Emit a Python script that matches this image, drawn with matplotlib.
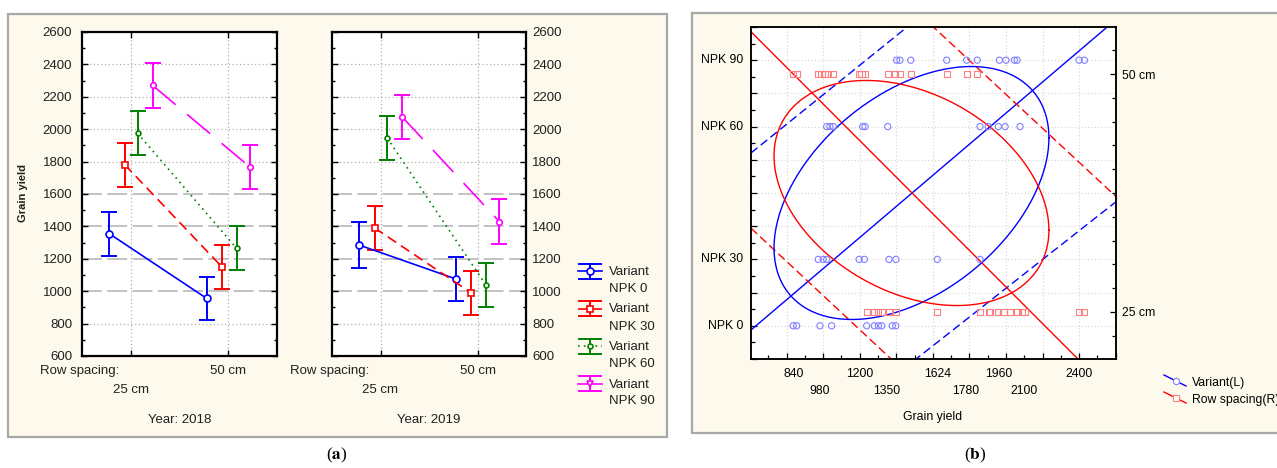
import numpy as np
import matplotlib.pyplot as plt
from matplotlib.patches import Rectangle
from matplotlib.lines import Line2D
from matplotlib.ticker import MultipleLocator, FixedLocator

plt.rcParams['font.family'] = ['Liberation Sans', 'DejaVu Sans']
plt.rcParams['mathtext.fontset'] = 'stix'

W, H = 1277, 468
CREAM = '#fdf9ec'

# ---------------- data: panel (a) ----------------
spacings = ['25 cm', '50 cm']
variants = ['NPK 0', 'NPK 30', 'NPK 60', 'NPK 90']
years = ['2018', '2019']
# mean grain yield per variant, [25 cm, 50 cm]
mean_2018 = [[1355, 955], [1780, 1150], [1975, 1265], [2270, 1765]]
mean_2019 = [[1285, 1075], [1390, 990], [1945, 1040], [2075, 1430]]
# half width of the confidence interval
ci_2018 = [[135, 133], [135, 135], [135, 135], [137, 135]]
ci_2019 = [[140, 135], [135, 135], [135, 135], [135, 140]]

# ---------------- data: panel (b) ----------------
npk_pos = [10, 30, 70, 90]          # variant categories, left axis
row_pos = [14.2, 85.8]              # row spacing categories, right axis
yield_npk0 = [836, 855, 982, 1046, 1238, 1280, 1302, 1320, 1378, 1397]
yield_npk30 = [973, 1000, 1019, 1197, 1225, 1360, 1398, 1624, 1858]
yield_npk60 = [1019, 1037, 1055, 1216, 1229, 1353, 1858, 1903, 1958, 1995, 2077]
yield_npk90 = [1402, 1420, 1479, 1676, 1785, 1843, 1964, 2000, 2046, 2061, 2400, 2429]
yield_25cm = [1238, 1280, 1302, 1320, 1360, 1398, 1624, 1858, 1907, 1912, 1958,
              1986, 2022, 2059, 2086, 2101, 2400, 2429]
yield_50cm = [836, 855, 973, 991, 1010, 1028, 1055, 1197, 1210, 1229, 1353, 1393,
              1420, 1479, 1676, 1785, 1843]
xtick_row1 = [840, 1200, 1624, 1960, 2400]
xtick_row2 = [980, 1350, 1780, 2100]
# fitted lines: (intercept, slope)
variant_fit = (-19.6, 0.04683)
variant_band = [(35.2, 0.0444), (-65.3, 0.0433)]
row_fit = (131.9, -0.0551)
row_band = [(181.9, -0.0511), (70.5, -0.0514)]
# ellipses: centre x, centre y, x half range, y half range, correlation
variant_ellipse = (1483, 50, 752, 38.1, 0.435)
row_ellipse = (1483, 50, 752, 33.9, -0.33)


def fx(x):
    return x / W


def fy(y):
    return 1 - y / H


def box(x0, y0, x1, y1):
    fig.add_artist(Rectangle((fx(x0), fy(y1)), (x1 - x0) / W, (y1 - y0) / H,
                             transform=fig.transFigure, facecolor=CREAM,
                             edgecolor='#a8a8a8', lw=1.6, zorder=0))


fig = plt.figure(figsize=(W / 100, H / 100), dpi=100)
fig.patch.set_facecolor('white')
box(8, 14, 667, 437)
box(692, 13, 1285, 433)

colors = ['#0000ff', '#ff0000', '#008000', '#ff00ff']
lstyles = ['-', (0, (6, 3.5)), (0, (1, 2.5)), (0, (18, 9))]
markers = ['o', 's', 'o', 'o']
msizes = [5, 5, 3.5, 4]
offsets = [[-0.22, -0.22], [-0.06, -0.065], [0.07, 0.085], [0.225, 0.225]]
dashed_grid = [1000, 1200, 1400, 1600]
TXT = dict(fontsize=9.5, color='#202020')


def draw_year(ax, means, cis, year, right):
    ax.set_xlim(-0.5, 1.5)
    ax.set_ylim(600, 2600)
    for yv in range(800, 2600, 200):
        if yv in dashed_grid:
            ax.axhline(yv, color='#bdbdbd', lw=1.3, ls=(0, (11, 3)), zorder=0)
        else:
            ax.axhline(yv, color='#b0b0b0', lw=0.9, ls=(0, (1, 2)), zorder=0)
    for xv in range(len(spacings)):
        ax.axvline(xv, color='#b0b0b0', lw=0.9, ls=(0, (1, 2)), zorder=0)
    for i in range(len(variants)):
        xs = np.arange(len(spacings)) + np.array(offsets[i])
        ax.errorbar(xs, means[i], yerr=cis[i], fmt='none', ecolor=colors[i],
                    elinewidth=1.4, capsize=5.5, capthick=1.4, zorder=3)
        ax.plot(xs, means[i], color=colors[i], lw=1.2, ls=lstyles[i],
                marker=markers[i], ms=msizes[i], mfc='white', mec=colors[i],
                mew=1.2, zorder=4)
    for s in ax.spines.values():
        s.set_linewidth(1.6)
    ax.yaxis.set_major_locator(MultipleLocator(200))
    ax.yaxis.set_minor_locator(MultipleLocator(100))
    ax.set_xticks(range(len(spacings)))
    ax.set_xticklabels([])
    ax.tick_params(which='both', direction='in', left=True, right=True, top=True,
                   bottom=True, labelleft=not right, labelright=right,
                   labelsize=9.5, labelcolor='#202020', width=1.0)
    ax.tick_params(which='major', length=4, pad=7 if not right else 4.5)
    ax.tick_params(which='minor', length=2.5)
    tr = ax.get_xaxis_transform()
    ax.text(-0.52, -0.046, 'Row spacing:', transform=tr, ha='center', va='center', **TXT)
    ax.text(0, -0.105, spacings[0], transform=tr, ha='center', va='center', **TXT)
    ax.text(1, -0.046, spacings[1], transform=tr, ha='center', va='center', **TXT)
    ax.text(0.5, -0.198, 'Year: ' + year, transform=ax.transAxes, ha='center',
            va='center', **TXT)


ax1 = fig.add_axes([fx(82), fy(356), 195 / W, 324 / H])
ax2 = fig.add_axes([fx(332), fy(356), 194 / W, 324 / H])
draw_year(ax1, mean_2018, ci_2018, years[0], False)
draw_year(ax2, mean_2019, ci_2019, years[1], True)
fig.text(fx(23), fy(193), 'Grain yield', rotation=90, ha='center', va='center',
         fontsize=8, fontweight='bold', color='#202020')

# legend of panel (a)
for i, v in enumerate(variants):
    cy = 271 + 37.5 * i
    kw = dict(transform=fig.transFigure, color=colors[i], lw=1.4)
    fig.add_artist(Line2D([fx(579), fx(601)], [fy(cy - 7.5)] * 2, **kw))
    fig.add_artist(Line2D([fx(579), fx(601)], [fy(cy + 7.5)] * 2, **kw))
    fig.add_artist(Line2D([fx(590)] * 2, [fy(cy - 7.5), fy(cy + 7.5)], **kw))
    fig.add_artist(Line2D([fx(578), fx(602)], [fy(cy)] * 2, transform=fig.transFigure,
                          color=colors[i], lw=1.2, ls=lstyles[i] if i != 3 else '-'))
    fig.add_artist(Line2D([fx(590)], [fy(cy)], transform=fig.transFigure, ls='none',
                          marker='v' if i == 3 else markers[i], ms=msizes[i],
                          mfc='white', mec=colors[i], mew=1.2))
    fig.text(fx(609), fy(cy + 1), 'Variant', ha='left', va='center', **TXT)
    fig.text(fx(609), fy(cy + 18), v, ha='left', va='center', **TXT)

# ---------------- panel (b) ----------------
axb = fig.add_axes([fx(751), fy(359), 365 / W, 332 / H])
axb.set_xlim(605, 2602)
axb.set_ylim(0, 100)
axb.set_facecolor('white')
xx = np.linspace(605, 2602, 400)
a, b = variant_fit
axb.plot(xx, a + b * xx, color='#0000ff', lw=1.0)
for a, b in variant_band:
    axb.plot(xx, a + b * xx, color='#0000ff', lw=1.0, ls=(0, (6, 3)))
a, b = row_fit
axb.plot(xx, a + b * xx, color='#ff0000', lw=1.0)
for a, b in row_band:
    axb.plot(xx, a + b * xx, color='#ff0000', lw=1.0, ls=(0, (6, 3)))

t = np.linspace(0, 2 * np.pi, 400)
for (cx, cy, ax_, ay_, r), col in [(variant_ellipse, '#0000ff'), (row_ellipse, '#ff0000')]:
    d = np.arccos(r)
    axb.plot(cx + ax_ * np.cos(t), cy + ay_ * np.cos(t - d), color=col, lw=1.0)

for vals, yp in zip([yield_npk0, yield_npk30, yield_npk60, yield_npk90], npk_pos):
    axb.scatter(vals, [yp] * len(vals), s=20, facecolors='none', edgecolors='#8080ff',
                linewidths=0.8, zorder=3)
for vals, yp in zip([yield_25cm, yield_50cm], row_pos):
    axb.scatter(vals, [yp] * len(vals), s=20, marker='s', facecolors='none',
                edgecolors='#ff8080', linewidths=0.8, zorder=3)

axb.xaxis.set_major_locator(MultipleLocator(200))
axb.xaxis.set_minor_locator(MultipleLocator(100))
axb.yaxis.set_major_locator(MultipleLocator(10))
axb.yaxis.set_minor_locator(MultipleLocator(5))
axb.grid(True, which='major', color='#d4d4d4', lw=0.8, ls=(0, (1, 2)))
axb.set_axisbelow(True)
axb.set_xticklabels([])
axb.set_yticklabels([])
axb.tick_params(which='both', direction='in', top=False, right=False, width=0.9)
axb.tick_params(which='major', length=4)
axb.tick_params(which='minor', length=3)
for s in axb.spines.values():
    s.set_linewidth(1.1)
for yp, lab in zip(npk_pos, variants):
    axb.text(-0.022, yp, lab, transform=axb.get_yaxis_transform(), ha='right',
             va='center', fontsize=8.8)
tr = axb.get_xaxis_transform()
for xv in xtick_row1:
    axb.text(xv, -0.045, str(xv), transform=tr, ha='center', va='center', fontsize=8.8)
for xv in xtick_row2:
    axb.text(xv, -0.096, str(xv), transform=tr, ha='center', va='center', fontsize=8.8)
fig.text(fx(933), fy(417), 'Grain yield', ha='center', va='center', fontsize=8.8)

axr = axb.twinx()
axr.set_ylim(0, 100)
step = (row_pos[1] - row_pos[0]) / 10
axr.yaxis.set_major_locator(FixedLocator(row_pos))
axr.yaxis.set_minor_locator(FixedLocator(
    [row_pos[0] + step * k for k in range(-1, 12) if k not in (0, 10)]))
axr.set_yticklabels(spacings, fontsize=8.8)
axr.tick_params(which='both', direction='in', width=0.9, pad=4.5)
axr.tick_params(which='major', length=4)
axr.tick_params(which='minor', length=3)
for s in axr.spines.values():
    s.set_linewidth(1.1)

# legend of panel (b)
for k, (lab, col, mk, mc) in enumerate([('Variant(L)', '#0000ff', 'o', '#8080ff'),
                                         ('Row spacing(R)', '#ff0000', 's', '#ff8080')]):
    y0 = 375 + 17 * k
    fig.add_artist(Line2D([fx(1164), fx(1186)], [fy(y0), fy(y0 + 11)],
                          transform=fig.transFigure, color=col, lw=1.0))
    fig.add_artist(Line2D([fx(1176)], [fy(y0 + 6)], transform=fig.transFigure, ls='none',
                          marker=mk, ms=4.5, mfc='white', mec=mc, mew=0.8))
    fig.text(fx(1192), fy(y0 + 8), lab, ha='left', va='center', fontsize=8.8)

# panel letters
for xp, let in [(337, 'a'), (975, 'b')]:
    fig.text(fx(xp), fy(455), '($\\mathbf{' + let + '}$)', ha='center', va='center',
             fontsize=12.5, family='Liberation Serif')

fig.savefig('out.png', dpi=100)
